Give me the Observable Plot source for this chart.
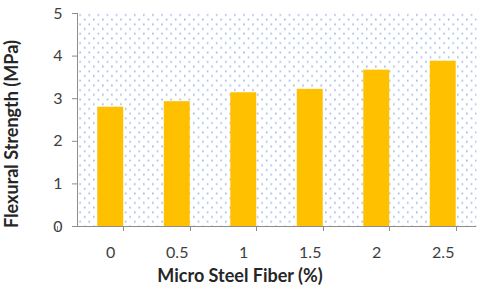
<!DOCTYPE html>
<html>
<head>
<meta charset="utf-8">
<script src="https://cdn.jsdelivr.net/npm/d3@7"></script>
<script src="https://cdn.jsdelivr.net/npm/@observablehq/plot@0.6"></script>
<style>
  html, body { margin: 0; padding: 0; background: #fff; }
  svg { display: block; }
</style>
</head>
<body>
<div id="chart"></div>
<script>
const fiber = ["0", "0.5", "1", "1.5", "2", "2.5"];
const strength = [2.8, 2.93, 3.14, 3.22, 3.67, 3.88];
const yTicks = [0, 1, 2, 3, 4, 5];
const xTitle = "Micro Steel Fiber (%)";
const yTitle = "Flexural Strength (MPa)";

const data = fiber.map((f, i) => ({fiber: f, strength: strength[i]}));

const font = "Lato, 'Open Sans', sans-serif";

const chart = Plot.plot({
  width: 480,
  height: 288,
  marginLeft: 77,
  marginRight: 4,
  marginTop: 13,
  marginBottom: 62,
  style: {fontFamily: font, fontSize: "16px", color: "#404040", background: "#fff"},
  x: {domain: fiber, paddingInner: 0.61, paddingOuter: 0.305, round: false, label: null},
  y: {domain: [0, 5], ticks: yTicks, label: null},
  marks: [
    Plot.frame({fill: "url(#dots)", stroke: null}),
    Plot.barY(data, {x: "fiber", y: "strength", fill: "#FFC000"}),
    Plot.axisY({ticks: yTicks, tickFormat: d => String(d), tickSize: 5, tickPadding: 10, stroke: "#8c8c8c", fill: "#404040", fontSize: 16}),
    Plot.axisX({tickSize: 0, tickPadding: 20, fill: "#404040", fontSize: 16}),
    Plot.ruleY([0], {stroke: "#8c8c8c"}),
    Plot.text([xTitle], {frameAnchor: "bottom", dy: 50, dx: -37, textAnchor: "middle", lineAnchor: "middle", fontWeight: "bold", fontSize: 18, fill: "#262626"}),
    Plot.text([yTitle], {frameAnchor: "left", dx: -65, dy: 14, textAnchor: "middle", lineAnchor: "middle", rotate: -90, fontWeight: "bold", fontSize: 18, fill: "#262626"})
  ]
});

// pattern definition for the dotted plot background
const svg = d3.select(chart);
const defs = svg.insert("defs", ":first-child");
const pat = defs.append("pattern")
  .attr("id", "dots")
  .attr("patternUnits", "userSpaceOnUse")
  .attr("x", 77).attr("y", 13)
  .attr("width", 9.1).attr("height", 9.4);
pat.append("rect").attr("x", 2).attr("y", 0.5).attr("width", 1.3).attr("height", 1.8).attr("fill", "#86a8e0");
pat.append("rect").attr("x", 6.5).attr("y", 5.2).attr("width", 1.3).attr("height", 1.8).attr("fill", "#86a8e0");

// y axis line and category boundary tick marks, positioned from the scales
const xs = chart.scale("x");
const ys = chart.scale("y");
const g = svg.append("g").attr("stroke", "#8c8c8c").attr("fill", "none");
g.append("line")
  .attr("x1", 77.5).attr("x2", 77.5)
  .attr("y1", ys.apply(5)).attr("y2", ys.apply(0));
const step = xs.step;
const left = xs.apply(fiber[0]) - step * xs.paddingOuter - step * xs.paddingInner / 2;
for (let i = 0; i <= fiber.length; i++) {
  const x = Math.round(left + i * step) + 0.5;
  g.append("line").attr("x1", x).attr("x2", x).attr("y1", ys.apply(0)).attr("y2", ys.apply(0) + 5);
}

document.getElementById("chart").appendChild(chart);
</script>
</body>
</html>
